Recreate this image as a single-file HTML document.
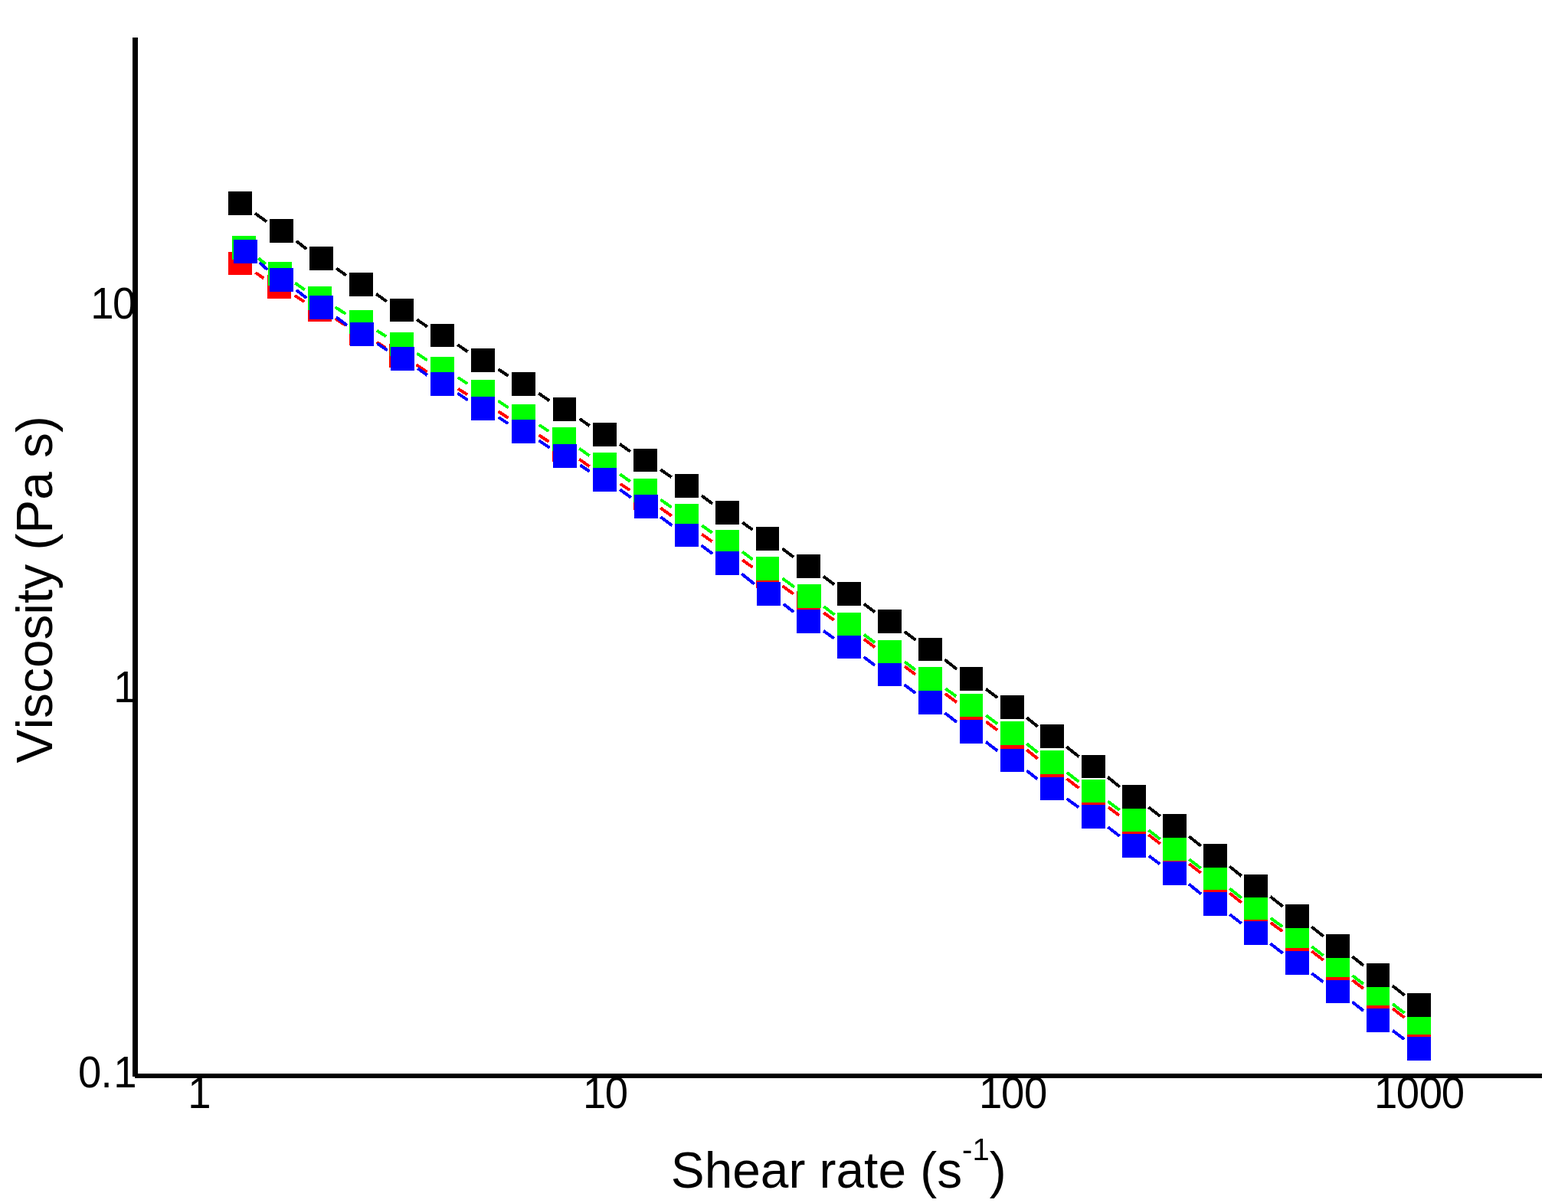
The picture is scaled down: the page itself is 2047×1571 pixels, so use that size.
<!DOCTYPE html>
<html lang="en"><head><meta charset="utf-8"><title>Viscosity vs shear rate</title>
<style>
html,body{margin:0;padding:0;background:#fff;}
body{width:2047px;height:1571px;overflow:hidden;}
svg{display:block;font-family:"Liberation Sans",sans-serif;}
text{fill:#000;font-kerning:none;}
</style></head><body>
<svg width="2047" height="1571" viewBox="0 0 2047 1571">
<rect width="2047" height="1571" fill="#fff"/>
<g shape-rendering="crispEdges">
<g stroke="#ff0000" stroke-width="4" fill="none"><line x1="333.5" y1="356.0" x2="344.5" y2="363.5"/><line x1="384.8" y1="386.0" x2="397.2" y2="394.0"/><line x1="437.7" y1="416.1" x2="451.3" y2="424.9"/><line x1="491.8" y1="446.8" x2="503.2" y2="454.2"/><line x1="543.5" y1="476.4" x2="557.5" y2="485.6"/><line x1="597.9" y1="507.7" x2="610.1" y2="515.3"/><line x1="650.6" y1="537.3" x2="663.4" y2="545.7"/><line x1="703.6" y1="568.3" x2="716.4" y2="576.7"/><line x1="756.3" y1="599.8" x2="769.7" y2="609.2"/><line x1="809.8" y1="632.0" x2="822.2" y2="640.0"/><line x1="862.1" y1="663.2" x2="876.9" y2="673.8"/><line x1="916.3" y1="697.8" x2="929.7" y2="707.2"/><line x1="969.1" y1="731.2" x2="982.4" y2="740.8"/><line x1="1021.5" y1="765.3" x2="1036.0" y2="775.7"/><line x1="1075.1" y1="800.1" x2="1088.9" y2="809.9"/><line x1="1127.8" y1="834.6" x2="1142.2" y2="845.4"/><line x1="1180.9" y1="870.3" x2="1195.1" y2="880.7"/><line x1="1233.7" y1="905.8" x2="1248.8" y2="917.2"/><line x1="1287.3" y1="942.5" x2="1302.2" y2="953.5"/><line x1="1340.3" y1="979.2" x2="1354.7" y2="990.8"/><line x1="1392.6" y1="1016.9" x2="1408.4" y2="1029.1"/><line x1="1446.9" y1="1054.3" x2="1461.1" y2="1064.7"/><line x1="1499.4" y1="1090.1" x2="1514.6" y2="1101.9"/><line x1="1552.4" y1="1128.1" x2="1567.6" y2="1139.9"/><line x1="1605.3" y1="1166.3" x2="1620.7" y2="1178.7"/><line x1="1658.7" y1="1204.7" x2="1674.3" y2="1216.3"/><line x1="1712.4" y1="1242.1" x2="1727.6" y2="1253.9"/><line x1="1765.5" y1="1279.9" x2="1780.0" y2="1291.1"/><line x1="1818.0" y1="1317.0" x2="1833.5" y2="1329.0"/></g>
<g fill="#ff0000"><rect x="298" y="329" width="31" height="30"/><rect x="349" y="359" width="31" height="31"/><rect x="402" y="389" width="31" height="31"/><rect x="456" y="420" width="31" height="31"/><rect x="508" y="449" width="31" height="31"/><rect x="562" y="481" width="31" height="31"/><rect x="615" y="510" width="31" height="31"/><rect x="668" y="541" width="31" height="31"/><rect x="721" y="572" width="31" height="31"/><rect x="774" y="605" width="31" height="31"/><rect x="827" y="635" width="31" height="31"/><rect x="881" y="670" width="31" height="31"/><rect x="934" y="703" width="31" height="31"/><rect x="987" y="737" width="30" height="31"/><rect x="1040" y="772" width="31" height="31"/><rect x="1093" y="806" width="31" height="31"/><rect x="1146" y="842" width="31" height="31"/><rect x="1199" y="877" width="31" height="31"/><rect x="1253" y="914" width="30" height="31"/><rect x="1306" y="950" width="31" height="31"/><rect x="1358" y="988" width="31" height="31"/><rect x="1412" y="1026" width="31" height="31"/><rect x="1465" y="1061" width="31" height="31"/><rect x="1518" y="1099" width="31" height="31"/><rect x="1571" y="1137" width="31" height="31"/><rect x="1624" y="1176" width="31" height="31"/><rect x="1678" y="1213" width="31" height="31"/><rect x="1731" y="1251" width="31" height="31"/><rect x="1784" y="1288" width="30" height="31"/><rect x="1837" y="1326" width="31" height="31"/></g>
<g stroke="#00ff00" stroke-width="4" fill="none"><line x1="337.4" y1="337.2" x2="346.6" y2="344.8"/><line x1="385.3" y1="369.7" x2="397.7" y2="378.3"/><line x1="437.7" y1="401.1" x2="451.3" y2="409.9"/><line x1="491.9" y1="431.7" x2="504.1" y2="439.3"/><line x1="544.4" y1="461.5" x2="557.6" y2="470.5"/><line x1="597.8" y1="493.0" x2="610.2" y2="501.0"/><line x1="650.4" y1="523.5" x2="663.6" y2="532.5"/><line x1="703.8" y1="555.0" x2="716.2" y2="563.0"/><line x1="756.3" y1="585.8" x2="769.7" y2="595.2"/><line x1="809.1" y1="619.1" x2="822.9" y2="628.9"/><line x1="862.4" y1="652.6" x2="876.6" y2="662.4"/><line x1="916.1" y1="686.1" x2="929.9" y2="695.9"/><line x1="968.9" y1="720.4" x2="982.6" y2="730.6"/><line x1="1021.4" y1="755.3" x2="1037.1" y2="766.7"/><line x1="1075.5" y1="792.0" x2="1089.5" y2="803.0"/><line x1="1127.8" y1="828.6" x2="1142.2" y2="839.4"/><line x1="1180.9" y1="864.3" x2="1195.1" y2="874.7"/><line x1="1234.1" y1="899.1" x2="1248.4" y2="909.4"/><line x1="1287.2" y1="934.1" x2="1302.3" y2="945.4"/><line x1="1340.3" y1="971.2" x2="1354.7" y2="982.8"/><line x1="1392.6" y1="1008.8" x2="1408.4" y2="1020.7"/><line x1="1446.5" y1="1046.5" x2="1461.5" y2="1058.0"/><line x1="1499.4" y1="1084.1" x2="1514.6" y2="1095.9"/><line x1="1552.4" y1="1122.1" x2="1567.6" y2="1133.9"/><line x1="1605.3" y1="1160.3" x2="1620.7" y2="1172.7"/><line x1="1658.7" y1="1198.7" x2="1674.3" y2="1210.3"/><line x1="1712.4" y1="1236.1" x2="1727.6" y2="1247.9"/><line x1="1765.5" y1="1273.9" x2="1780.0" y2="1285.1"/><line x1="1818.0" y1="1311.0" x2="1833.5" y2="1323.0"/></g>
<g fill="#00ff00"><rect x="303" y="308" width="31" height="31"/><rect x="350" y="342" width="31" height="31"/><rect x="402" y="374" width="31" height="31"/><rect x="456" y="405" width="31" height="31"/><rect x="509" y="434" width="31" height="31"/><rect x="562" y="466" width="31" height="31"/><rect x="615" y="496" width="31" height="31"/><rect x="668" y="528" width="31" height="31"/><rect x="721" y="558" width="31" height="31"/><rect x="774" y="591" width="31" height="31"/><rect x="827" y="625" width="31" height="31"/><rect x="881" y="658" width="31" height="31"/><rect x="934" y="692" width="31" height="31"/><rect x="987" y="727" width="30" height="31"/><rect x="1041" y="763" width="31" height="31"/><rect x="1093" y="800" width="31" height="31"/><rect x="1146" y="836" width="31" height="31"/><rect x="1199" y="871" width="31" height="31"/><rect x="1253" y="906" width="30" height="30"/><rect x="1306" y="942" width="31" height="31"/><rect x="1358" y="980" width="31" height="31"/><rect x="1412" y="1018" width="31" height="30"/><rect x="1465" y="1055" width="31" height="31"/><rect x="1518" y="1093" width="31" height="31"/><rect x="1571" y="1131" width="31" height="31"/><rect x="1624" y="1170" width="31" height="31"/><rect x="1678" y="1207" width="31" height="31"/><rect x="1731" y="1245" width="31" height="31"/><rect x="1784" y="1282" width="30" height="31"/><rect x="1837" y="1320" width="31" height="31"/></g>
<g stroke="#0000ff" stroke-width="4" fill="none"><line x1="338.8" y1="342.9" x2="349.2" y2="352.1"/><line x1="386.7" y1="378.8" x2="400.3" y2="389.2"/><line x1="438.9" y1="414.3" x2="453.1" y2="424.7"/><line x1="492.4" y1="448.5" x2="505.6" y2="457.5"/><line x1="545.2" y1="481.0" x2="557.8" y2="490.0"/><line x1="597.4" y1="513.5" x2="610.6" y2="522.5"/><line x1="650.8" y1="545.0" x2="663.2" y2="553.0"/><line x1="703.5" y1="575.4" x2="717.5" y2="584.6"/><line x1="757.5" y1="607.4" x2="769.5" y2="615.6"/><line x1="809.1" y1="639.2" x2="823.9" y2="649.8"/><line x1="862.5" y1="675.0" x2="877.5" y2="686.5"/><line x1="915.7" y1="712.2" x2="930.3" y2="723.3"/><line x1="968.2" y1="749.4" x2="984.8" y2="762.6"/><line x1="1022.7" y1="788.8" x2="1036.3" y2="799.2"/><line x1="1075.2" y1="823.9" x2="1088.8" y2="833.6"/><line x1="1127.8" y1="858.1" x2="1142.2" y2="868.9"/><line x1="1180.7" y1="894.2" x2="1195.3" y2="905.3"/><line x1="1233.5" y1="931.0" x2="1249.0" y2="943.0"/><line x1="1287.1" y1="968.9" x2="1302.4" y2="980.6"/><line x1="1340.5" y1="1006.5" x2="1354.5" y2="1017.5"/><line x1="1392.8" y1="1043.0" x2="1408.2" y2="1054.5"/><line x1="1446.4" y1="1080.1" x2="1461.6" y2="1091.9"/><line x1="1499.8" y1="1117.6" x2="1514.2" y2="1128.4"/><line x1="1552.1" y1="1154.5" x2="1567.9" y2="1167.5"/><line x1="1605.4" y1="1194.1" x2="1620.6" y2="1205.9"/><line x1="1658.4" y1="1232.1" x2="1674.6" y2="1244.9"/><line x1="1712.5" y1="1271.0" x2="1727.5" y2="1282.5"/><line x1="1765.5" y1="1308.5" x2="1780.0" y2="1320.0"/><line x1="1818.2" y1="1345.8" x2="1833.3" y2="1357.2"/></g>
<g fill="#0000ff"><rect x="305" y="313" width="31" height="31"/><rect x="352" y="350" width="31" height="31"/><rect x="404" y="386" width="31" height="31"/><rect x="457" y="421" width="31" height="31"/><rect x="510" y="453" width="31" height="31"/><rect x="562" y="486" width="31" height="31"/><rect x="615" y="518" width="31" height="31"/><rect x="668" y="548" width="31" height="31"/><rect x="722" y="580" width="31" height="31"/><rect x="774" y="611" width="31" height="31"/><rect x="828" y="646" width="31" height="31"/><rect x="881" y="684" width="31" height="30"/><rect x="934" y="720" width="31" height="31"/><rect x="988" y="760" width="31" height="31"/><rect x="1040" y="796" width="31" height="31"/><rect x="1093" y="830" width="31" height="30"/><rect x="1146" y="866" width="31" height="30"/><rect x="1199" y="902" width="31" height="31"/><rect x="1253" y="940" width="30" height="31"/><rect x="1306" y="978" width="31" height="30"/><rect x="1358" y="1015" width="31" height="30"/><rect x="1412" y="1051" width="31" height="31"/><rect x="1465" y="1089" width="31" height="31"/><rect x="1518" y="1125" width="31" height="31"/><rect x="1571" y="1165" width="31" height="31"/><rect x="1624" y="1203" width="31" height="31"/><rect x="1678" y="1242" width="31" height="31"/><rect x="1731" y="1280" width="31" height="30"/><rect x="1784" y="1317" width="30" height="31"/><rect x="1837" y="1354" width="31" height="31"/></g>
<g stroke="#000000" stroke-width="4" fill="none"><line x1="332.9" y1="278.4" x2="348.1" y2="289.6"/><line x1="386.7" y1="314.8" x2="400.3" y2="325.2"/><line x1="439.0" y1="350.3" x2="452.0" y2="359.7"/><line x1="491.2" y1="383.9" x2="504.8" y2="393.6"/><line x1="544.3" y1="417.3" x2="557.7" y2="426.7"/><line x1="597.4" y1="450.2" x2="610.6" y2="459.3"/><line x1="650.6" y1="482.3" x2="663.4" y2="490.7"/><line x1="703.3" y1="513.7" x2="717.2" y2="523.3"/><line x1="756.7" y1="546.9" x2="769.8" y2="556.1"/><line x1="809.2" y1="579.9" x2="822.8" y2="589.6"/><line x1="862.3" y1="613.3" x2="876.7" y2="623.2"/><line x1="915.9" y1="647.3" x2="930.1" y2="657.7"/><line x1="969.1" y1="682.2" x2="982.4" y2="691.8"/><line x1="1021.3" y1="716.5" x2="1036.2" y2="727.5"/><line x1="1074.8" y1="752.6" x2="1089.2" y2="763.4"/><line x1="1127.8" y1="788.6" x2="1142.2" y2="799.4"/><line x1="1180.7" y1="824.7" x2="1195.3" y2="835.8"/><line x1="1233.4" y1="861.6" x2="1249.1" y2="873.9"/><line x1="1287.2" y1="899.8" x2="1302.3" y2="911.2"/><line x1="1340.3" y1="937.2" x2="1354.7" y2="948.8"/><line x1="1392.3" y1="975.3" x2="1408.7" y2="988.2"/><line x1="1446.2" y1="1014.9" x2="1461.8" y2="1027.6"/><line x1="1499.4" y1="1054.1" x2="1514.6" y2="1065.9"/><line x1="1552.3" y1="1092.3" x2="1567.7" y2="1104.7"/><line x1="1605.2" y1="1131.4" x2="1620.8" y2="1144.1"/><line x1="1658.3" y1="1170.8" x2="1674.7" y2="1183.7"/><line x1="1712.3" y1="1210.3" x2="1727.7" y2="1222.7"/><line x1="1765.4" y1="1249.2" x2="1780.1" y2="1260.8"/><line x1="1817.8" y1="1287.2" x2="1833.7" y2="1299.8"/></g>
<g fill="#000000"><rect x="298" y="250" width="31" height="31"/><rect x="352" y="286" width="31" height="31"/><rect x="404" y="322" width="31" height="31"/><rect x="456" y="356" width="31" height="31"/><rect x="509" y="390" width="31" height="30"/><rect x="562" y="423" width="31" height="30"/><rect x="615" y="455" width="31" height="31"/><rect x="668" y="486" width="31" height="31"/><rect x="722" y="519" width="30" height="31"/><rect x="774" y="552" width="31" height="31"/><rect x="827" y="586" width="31" height="30"/><rect x="881" y="619" width="31" height="31"/><rect x="934" y="654" width="31" height="31"/><rect x="987" y="688" width="30" height="31"/><rect x="1040" y="724" width="31" height="31"/><rect x="1093" y="760" width="31" height="31"/><rect x="1146" y="796" width="31" height="31"/><rect x="1199" y="833" width="31" height="30"/><rect x="1253" y="871" width="30" height="31"/><rect x="1306" y="908" width="31" height="31"/><rect x="1358" y="946" width="31" height="31"/><rect x="1412" y="986" width="31" height="30"/><rect x="1465" y="1025" width="31" height="31"/><rect x="1518" y="1063" width="31" height="31"/><rect x="1571" y="1102" width="31" height="31"/><rect x="1624" y="1142" width="31" height="30"/><rect x="1678" y="1181" width="31" height="31"/><rect x="1731" y="1220" width="31" height="31"/><rect x="1784" y="1258" width="30" height="31"/><rect x="1837" y="1297" width="31" height="31"/></g>
<rect x="173" y="49" width="7" height="1357" fill="#000"/>
<rect x="176" y="1402" width="1837" height="6" fill="#000"/>
</g>
<g><text transform="translate(0 416) scale(1 1.04)" x="118.2 147.1" y="0" font-size="54.5px">10</text><text transform="translate(0 917) scale(1 1.04)" x="148.2" y="0" font-size="54.5px">1</text><text transform="translate(0 1420) scale(1 1.04)" x="102.0 131.4 148.2" y="0" font-size="54.5px">0.1</text><text transform="translate(0 1447) scale(1 1.04)" x="245.2" y="0" font-size="54.5px">1</text><text transform="translate(0 1447) scale(1 1.04)" x="761.0 789.8" y="0" font-size="54.5px">10</text><text transform="translate(0 1447) scale(1 1.04)" x="1278.0 1306.9 1337.1" y="0" font-size="54.5px">100</text><text transform="translate(0 1447) scale(1 1.04)" x="1794.1 1822.7 1852.7 1881.8" y="0" font-size="54.5px">1000</text></g>
<text transform="translate(875.8 1550.6) scale(1 1.015)" font-size="65.8px">Shear rate (s<tspan font-size="40px" dy="-35.5">-1</tspan><tspan dy="35.5">)</tspan></text>
<text transform="translate(68.2 996.4) rotate(-90) scale(1 1.015)" font-size="65.8px">Viscosity (Pa s)</text>
</svg>
</body></html>
